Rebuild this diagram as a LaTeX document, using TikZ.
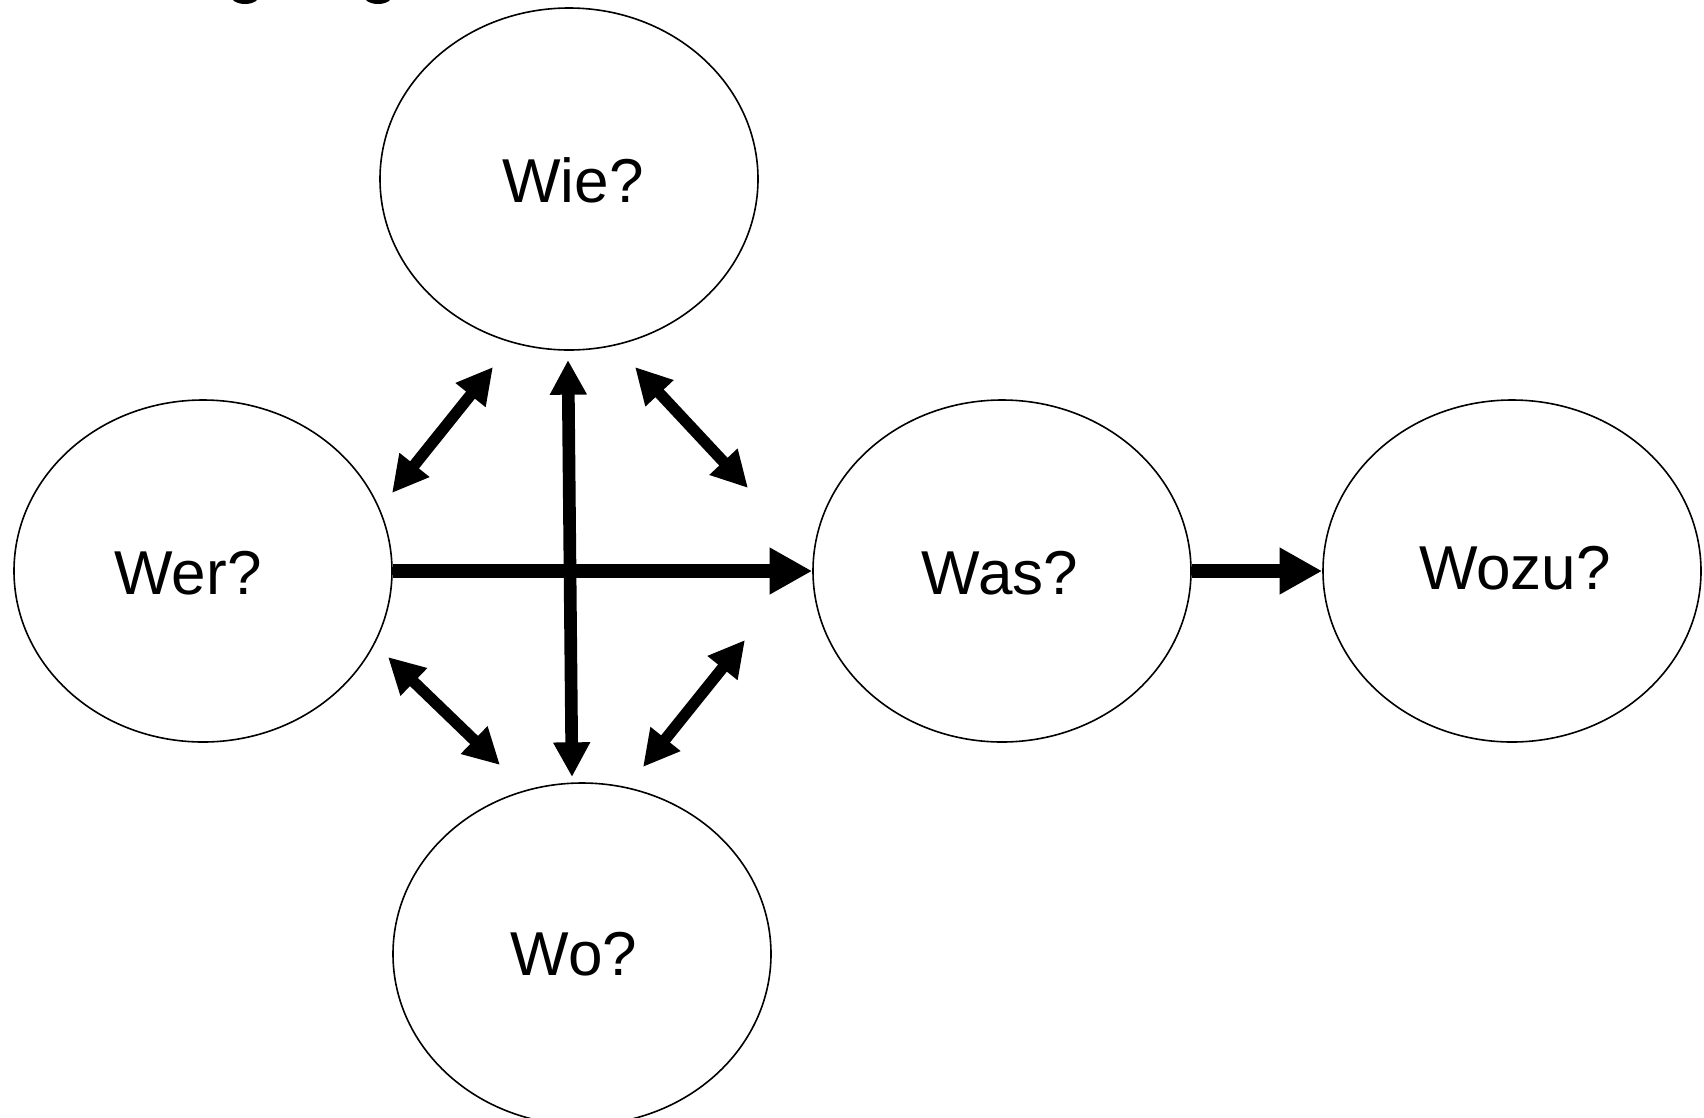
\documentclass[tikz,border=0pt]{standalone}
\usepackage{fontspec}
\setmainfont{Liberation Sans}
\usetikzlibrary{shapes.geometric,arrows.meta}
\begin{document}
\begin{tikzpicture}[x=0.75pt,y=-0.75pt,
  bubble/.style={draw=black,line width=1.2pt,ellipse,minimum width=283.5pt,minimum height=256.5pt,inner sep=0pt},
  txt/.style={font=\fontsize{46.5pt}{50pt}\selectfont,inner sep=0pt},
  harrow/.style={line width=11pt,-{Triangle[length=32pt,width=33pt]}},
  varrow/.style={line width=9.5pt,{Triangle[length=26pt,width=26pt]}-{Triangle[length=26pt,width=26pt]}},
  darrow/.style={line width=8.5pt,{Triangle[length=27pt,width=27pt]}-{Triangle[length=27pt,width=27pt]}}]
\useasboundingbox (0,0) rectangle (1704,1118);
% cut-off descenders of a title above the picture
\fill (245,-6) ellipse [x radius=11.5pt, y radius=7.5pt];
\fill (378,-6) ellipse [x radius=11.5pt, y radius=7.5pt];
% ellipses
\node[bubble] (wie) at (569,179) {};
\node[bubble] (wer) at (203,571) {};
\node[bubble] (was) at (1002,571) {};
\node[bubble] (wozu) at (1512,571) {};
\node[bubble] (wo) at (582,954) {};
% texts
\node[txt] (wiet) at (573,180) {Wie?};
\node[txt] (wert) at (188,573) {Wer?};
\node[txt] (wast) at (1000,573) {Was?};
\node[txt] (wozut) at (1515,568) {Wozu?};
\node[txt] (wot) at (574,954) {Wo?};
% arrow end points
\coordinate (vtop) at (568,360);
\coordinate (vbot) at (572,777);
\coordinate (ula) at (392,493);
\coordinate (ulb) at (493,367);
\coordinate (ura) at (635,367);
\coordinate (urb) at (748,488);
\coordinate (lla) at (388,657);
\coordinate (llb) at (500,765);
\coordinate (lra) at (745,640);
\coordinate (lrb) at (643,767);
% connectors
\draw[varrow] (vtop) -- (vbot);
\draw[harrow] (wer.east) -- (was.west);
\draw[harrow] (was.east) -- (wozu.west);
\draw[darrow] (ula) -- (ulb);
\draw[darrow] (ura) -- (urb);
\draw[darrow] (lla) -- (llb);
\draw[darrow] (lra) -- (lrb);
\end{tikzpicture}
\end{document}
